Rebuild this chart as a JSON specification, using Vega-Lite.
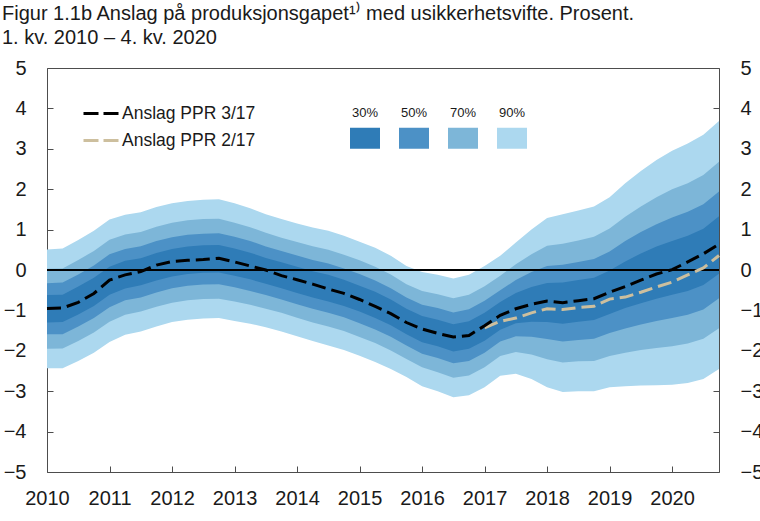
{
  "$schema": "https://vega.github.io/schema/vega-lite/v6.json",
  "autosize": "none",
  "width": 672,
  "height": 404,
  "padding": {"left": 47, "top": 68, "right": 41, "bottom": 49},
  "background": "white",
  "title": {
    "text": ["Figur 1.1b Anslag på produksjonsgapet¹⁾ med usikkerhetsvifte. Prosent.", "1. kv. 2010 – 4. kv. 2020"],
    "anchor": "start",
    "frame": "group",
    "dx": -45,
    "offset": 10,
    "fontSize": 20,
    "fontWeight": "normal",
    "font": "Liberation Sans",
    "color": "#1a1a1a",
    "lineHeight": 24
  },
  "data": {
    "values": [
      {"kvartal": 2010, "lo90": -2.43, "hi90": 0.51, "lo70": -1.95, "hi70": 0.03, "lo50": -1.59, "hi50": -0.33, "lo30": -1.30, "hi30": -0.62, "ppr317": -0.95, "ppr217": null},
      {"kvartal": 2010.25, "lo90": -2.43, "hi90": 0.53, "lo70": -1.94, "hi70": 0.04, "lo50": -1.59, "hi50": -0.31, "lo30": -1.29, "hi30": -0.61, "ppr317": -0.94, "ppr217": null},
      {"kvartal": 2010.5, "lo90": -2.25, "hi90": 0.74, "lo70": -1.76, "hi70": 0.25, "lo50": -1.40, "hi50": -0.11, "lo30": -1.10, "hi30": -0.41, "ppr317": -0.80, "ppr217": null},
      {"kvartal": 2010.75, "lo90": -2.05, "hi90": 0.97, "lo70": -1.55, "hi70": 0.47, "lo50": -1.19, "hi50": 0.11, "lo30": -0.89, "hi30": -0.19, "ppr317": -0.58, "ppr217": null},
      {"kvartal": 2011, "lo90": -1.78, "hi90": 1.25, "lo70": -1.28, "hi70": 0.75, "lo50": -0.92, "hi50": 0.39, "lo30": -0.61, "hi30": 0.08, "ppr317": -0.25, "ppr217": null},
      {"kvartal": 2011.25, "lo90": -1.60, "hi90": 1.37, "lo70": -1.11, "hi70": 0.88, "lo50": -0.75, "hi50": 0.52, "lo30": -0.46, "hi30": 0.23, "ppr317": -0.12, "ppr217": null},
      {"kvartal": 2011.5, "lo90": -1.52, "hi90": 1.43, "lo70": -1.03, "hi70": 0.94, "lo50": -0.68, "hi50": 0.59, "lo30": -0.38, "hi30": 0.29, "ppr317": -0.04, "ppr217": null},
      {"kvartal": 2011.75, "lo90": -1.40, "hi90": 1.56, "lo70": -0.91, "hi70": 1.07, "lo50": -0.56, "hi50": 0.72, "lo30": -0.26, "hi30": 0.42, "ppr317": 0.12, "ppr217": null},
      {"kvartal": 2012, "lo90": -1.29, "hi90": 1.65, "lo70": -0.81, "hi70": 1.17, "lo50": -0.45, "hi50": 0.81, "lo30": -0.16, "hi30": 0.52, "ppr317": 0.21, "ppr217": null},
      {"kvartal": 2012.25, "lo90": -1.23, "hi90": 1.71, "lo70": -0.75, "hi70": 1.23, "lo50": -0.39, "hi50": 0.87, "lo30": -0.10, "hi30": 0.58, "ppr317": 0.24, "ppr217": null},
      {"kvartal": 2012.5, "lo90": -1.20, "hi90": 1.74, "lo70": -0.72, "hi70": 1.26, "lo50": -0.36, "hi50": 0.90, "lo30": -0.07, "hi30": 0.61, "ppr317": 0.26, "ppr217": null},
      {"kvartal": 2012.75, "lo90": -1.19, "hi90": 1.75, "lo70": -0.71, "hi70": 1.27, "lo50": -0.35, "hi50": 0.91, "lo30": -0.06, "hi30": 0.62, "ppr317": 0.29, "ppr217": null},
      {"kvartal": 2013, "lo90": -1.26, "hi90": 1.65, "lo70": -0.78, "hi70": 1.17, "lo50": -0.43, "hi50": 0.82, "lo30": -0.14, "hi30": 0.53, "ppr317": 0.20, "ppr217": null},
      {"kvartal": 2013.25, "lo90": -1.33, "hi90": 1.53, "lo70": -0.86, "hi70": 1.06, "lo50": -0.52, "hi50": 0.72, "lo30": -0.23, "hi30": 0.43, "ppr317": 0.10, "ppr217": null},
      {"kvartal": 2013.5, "lo90": -1.42, "hi90": 1.38, "lo70": -0.96, "hi70": 0.92, "lo50": -0.62, "hi50": 0.58, "lo30": -0.34, "hi30": 0.30, "ppr317": 0.00, "ppr217": null},
      {"kvartal": 2013.75, "lo90": -1.52, "hi90": 1.26, "lo70": -1.06, "hi70": 0.80, "lo50": -0.73, "hi50": 0.47, "lo30": -0.45, "hi30": 0.19, "ppr317": -0.14, "ppr217": null},
      {"kvartal": 2014, "lo90": -1.64, "hi90": 1.15, "lo70": -1.18, "hi70": 0.69, "lo50": -0.85, "hi50": 0.36, "lo30": -0.57, "hi30": 0.08, "ppr317": -0.24, "ppr217": null},
      {"kvartal": 2014.25, "lo90": -1.76, "hi90": 1.05, "lo70": -1.30, "hi70": 0.59, "lo50": -0.96, "hi50": 0.25, "lo30": -0.68, "hi30": -0.03, "ppr317": -0.35, "ppr217": null},
      {"kvartal": 2014.5, "lo90": -1.87, "hi90": 0.97, "lo70": -1.40, "hi70": 0.50, "lo50": -1.06, "hi50": 0.16, "lo30": -0.78, "hi30": -0.12, "ppr317": -0.47, "ppr217": null},
      {"kvartal": 2014.75, "lo90": -1.98, "hi90": 0.85, "lo70": -1.51, "hi70": 0.38, "lo50": -1.17, "hi50": 0.04, "lo30": -0.89, "hi30": -0.24, "ppr317": -0.58, "ppr217": null},
      {"kvartal": 2015, "lo90": -2.12, "hi90": 0.70, "lo70": -1.66, "hi70": 0.24, "lo50": -1.32, "hi50": -0.10, "lo30": -1.03, "hi30": -0.39, "ppr317": -0.73, "ppr217": null},
      {"kvartal": 2015.25, "lo90": -2.28, "hi90": 0.55, "lo70": -1.81, "hi70": 0.08, "lo50": -1.47, "hi50": -0.26, "lo30": -1.19, "hi30": -0.54, "ppr317": -0.90, "ppr217": null},
      {"kvartal": 2015.5, "lo90": -2.45, "hi90": 0.35, "lo70": -1.99, "hi70": -0.11, "lo50": -1.65, "hi50": -0.45, "lo30": -1.37, "hi30": -0.73, "ppr317": -1.08, "ppr217": null},
      {"kvartal": 2015.75, "lo90": -2.65, "hi90": 0.10, "lo70": -2.20, "hi70": -0.35, "lo50": -1.87, "hi50": -0.68, "lo30": -1.59, "hi30": -0.96, "ppr317": -1.30, "ppr217": null},
      {"kvartal": 2016, "lo90": -2.88, "hi90": -0.05, "lo70": -2.41, "hi70": -0.52, "lo50": -2.07, "hi50": -0.86, "lo30": -1.79, "hi30": -1.14, "ppr317": -1.46, "ppr217": null},
      {"kvartal": 2016.25, "lo90": -3.00, "hi90": -0.12, "lo70": -2.53, "hi70": -0.60, "lo50": -2.18, "hi50": -0.94, "lo30": -1.89, "hi30": -1.23, "ppr317": -1.57, "ppr217": null},
      {"kvartal": 2016.5, "lo90": -3.15, "hi90": -0.21, "lo70": -2.67, "hi70": -0.70, "lo50": -2.31, "hi50": -1.05, "lo30": -2.02, "hi30": -1.34, "ppr317": -1.66, "ppr217": null},
      {"kvartal": 2016.75, "lo90": -3.10, "hi90": -0.12, "lo70": -2.61, "hi70": -0.61, "lo50": -2.25, "hi50": -0.97, "lo30": -1.95, "hi30": -1.27, "ppr317": -1.62, "ppr217": null},
      {"kvartal": 2017, "lo90": -2.90, "hi90": 0.10, "lo70": -2.41, "hi70": -0.40, "lo50": -2.05, "hi50": -0.76, "lo30": -1.75, "hi30": -1.06, "ppr317": -1.38, "ppr217": -1.43},
      {"kvartal": 2017.25, "lo90": -2.62, "hi90": 0.35, "lo70": -2.13, "hi70": -0.14, "lo50": -1.77, "hi50": -0.50, "lo30": -1.48, "hi30": -0.79, "ppr317": -1.12, "ppr217": -1.27},
      {"kvartal": 2017.5, "lo90": -2.57, "hi90": 0.68, "lo70": -2.03, "hi70": 0.14, "lo50": -1.64, "hi50": -0.25, "lo30": -1.32, "hi30": -0.57, "ppr317": -0.96, "ppr217": -1.19},
      {"kvartal": 2017.75, "lo90": -2.70, "hi90": 1.00, "lo70": -2.09, "hi70": 0.39, "lo50": -1.65, "hi50": -0.05, "lo30": -1.28, "hi30": -0.42, "ppr317": -0.85, "ppr217": -1.06},
      {"kvartal": 2018, "lo90": -2.90, "hi90": 1.29, "lo70": -2.21, "hi70": 0.60, "lo50": -1.71, "hi50": 0.10, "lo30": -1.29, "hi30": -0.32, "ppr317": -0.77, "ppr217": -0.96},
      {"kvartal": 2018.25, "lo90": -3.02, "hi90": 1.38, "lo70": -2.29, "hi70": 0.65, "lo50": -1.77, "hi50": 0.13, "lo30": -1.33, "hi30": -0.31, "ppr317": -0.81, "ppr217": -0.98},
      {"kvartal": 2018.5, "lo90": -3.00, "hi90": 1.47, "lo70": -2.26, "hi70": 0.73, "lo50": -1.73, "hi50": 0.20, "lo30": -1.28, "hi30": -0.25, "ppr317": -0.76, "ppr217": -0.93},
      {"kvartal": 2018.75, "lo90": -3.00, "hi90": 1.57, "lo70": -2.25, "hi70": 0.82, "lo50": -1.70, "hi50": 0.27, "lo30": -1.24, "hi30": -0.19, "ppr317": -0.71, "ppr217": -0.90},
      {"kvartal": 2019, "lo90": -2.90, "hi90": 1.80, "lo70": -2.13, "hi70": 1.03, "lo50": -1.56, "hi50": 0.46, "lo30": -1.09, "hi30": -0.01, "ppr317": -0.55, "ppr217": -0.72},
      {"kvartal": 2019.25, "lo90": -2.88, "hi90": 2.15, "lo70": -2.05, "hi70": 1.32, "lo50": -1.45, "hi50": 0.72, "lo30": -0.94, "hi30": 0.21, "ppr317": -0.41, "ppr217": -0.67},
      {"kvartal": 2019.5, "lo90": -2.86, "hi90": 2.45, "lo70": -1.98, "hi70": 1.57, "lo50": -1.35, "hi50": 0.94, "lo30": -0.82, "hi30": 0.41, "ppr317": -0.25, "ppr217": -0.55},
      {"kvartal": 2019.75, "lo90": -2.85, "hi90": 2.72, "lo70": -1.93, "hi70": 1.80, "lo50": -1.26, "hi50": 1.13, "lo30": -0.71, "hi30": 0.58, "ppr317": -0.10, "ppr217": -0.42},
      {"kvartal": 2020, "lo90": -2.84, "hi90": 2.95, "lo70": -1.89, "hi70": 2.00, "lo50": -1.19, "hi50": 1.30, "lo30": -0.61, "hi30": 0.72, "ppr317": 0.01, "ppr217": -0.30},
      {"kvartal": 2020.25, "lo90": -2.80, "hi90": 3.13, "lo70": -1.82, "hi70": 2.15, "lo50": -1.11, "hi50": 1.44, "lo30": -0.52, "hi30": 0.85, "ppr317": 0.20, "ppr217": -0.12},
      {"kvartal": 2020.5, "lo90": -2.70, "hi90": 3.35, "lo70": -1.70, "hi70": 2.35, "lo50": -0.98, "hi50": 1.63, "lo30": -0.37, "hi30": 1.02, "ppr317": 0.40, "ppr217": 0.05},
      {"kvartal": 2020.75, "lo90": -2.45, "hi90": 3.69, "lo70": -1.44, "hi70": 2.68, "lo50": -0.70, "hi50": 1.94, "lo30": -0.09, "hi30": 1.33, "ppr317": 0.64, "ppr217": 0.36}
    ]
  },
  "layer": [
    {
      "mark": {"type": "area", "opacity": 1, "strokeWidth": 0},
      "encoding": {
        "x": {"field": "kvartal", "type": "quantitative", "scale": {"domain": [2010, 2020.75], "nice": false, "zero": false},
              "axis": {"values": [2010, 2011, 2012, 2013, 2014, 2015, 2016, 2017, 2018, 2019, 2020], "format": "d", "title": null, "labelPadding": 22, "labelFlush": false}},
        "y": {"field": "lo90", "type": "quantitative", "scale": {"domain": [-5, 5], "nice": false, "zero": false},
              "axis": {"orient": "left", "values": [-5, -4, -3, -2, -1, 0, 1, 2, 3, 4, 5], "format": "d", "title": null, "labelPadding": 27}},
        "y2": {"field": "hi90"},
        "fill": {"datum": "90%", "type": "nominal",
                 "scale": {"domain": ["30%", "50%", "70%", "90%"], "range": ["#2f7cb7", "#4c91c6", "#7db6d8", "#acd8ef"]},
                 "legend": {"orient": "none", "direction": "horizontal", "legendX": 303, "legendY": 55, "title": null,
                            "symbolType": "M-1,-0.7H1V0.7H-1Z", "symbolSize": 900, "symbolStrokeWidth": 0, "symbolOpacity": 1,
                            "labelFontSize": 13, "labelAlign": "center", "labelBaseline": "middle", "labelOffset": -15, "columnPadding": 19, "padding": 0,
                            "labelColor": "#1a1a1a", "labelFont": "Liberation Sans",
                            "encode": {"labels": {"update": {"dy": {"value": -25}}}}}}
      }
    },
    {
      "mark": {"type": "area", "opacity": 1, "strokeWidth": 0},
      "encoding": {
        "x": {"field": "kvartal", "type": "quantitative"},
        "y": {"field": "lo70", "type": "quantitative", "axis": null},
        "y2": {"field": "hi70"},
        "fill": {"datum": "70%", "type": "nominal"}
      }
    },
    {
      "mark": {"type": "area", "opacity": 1, "strokeWidth": 0},
      "encoding": {
        "x": {"field": "kvartal", "type": "quantitative"},
        "y": {"field": "lo50", "type": "quantitative", "axis": null},
        "y2": {"field": "hi50"},
        "fill": {"datum": "50%", "type": "nominal"}
      }
    },
    {
      "mark": {"type": "area", "opacity": 1, "strokeWidth": 0},
      "encoding": {
        "x": {"field": "kvartal", "type": "quantitative"},
        "y": {"field": "lo30", "type": "quantitative", "axis": null},
        "y2": {"field": "hi30"},
        "fill": {"datum": "30%", "type": "nominal"}
      }
    },
    {
      "mark": {"type": "rule", "color": "#000000", "strokeWidth": 2},
      "encoding": {
        "y": {"datum": 0, "type": "quantitative",
              "axis": {"orient": "right", "values": [-5, -4, -3, -2, -1, 0, 1, 2, 3, 4, 5], "format": "d", "title": null, "labelPadding": 27}}
      }
    },
    {
      "mark": {"type": "line", "strokeWidth": 3, "strokeDash": [14, 6]},
      "encoding": {
        "x": {"field": "kvartal", "type": "quantitative"},
        "y": {"field": "ppr217", "type": "quantitative", "axis": null},
        "stroke": {"datum": "Anslag PPR 2/17", "type": "nominal",
                   "scale": {"domain": ["Anslag PPR 3/17", "Anslag PPR 2/17"], "range": ["#000000", "#cdbf9e"]},
                   "legend": {"orient": "none", "legendX": 46.25, "legendY": 36.5, "title": null,
                              "symbolType": "M-2.5,0H2.5", "symbolSize": 225, "symbolStrokeWidth": 3, "symbolDash": [15, 5],
                              "labelFontSize": 17.5, "labelOffset": 10.75, "rowPadding": 9, "padding": 0,
                              "labelColor": "#1a1a1a", "labelFont": "Liberation Sans"}}
      }
    },
    {
      "mark": {"type": "line", "strokeWidth": 3, "strokeDash": [14, 6]},
      "encoding": {
        "x": {"field": "kvartal", "type": "quantitative"},
        "y": {"field": "ppr317", "type": "quantitative", "axis": null},
        "stroke": {"datum": "Anslag PPR 3/17", "type": "nominal"}
      }
    }
  ],
  "resolve": {"axis": {"y": "independent"}},
  "config": {
    "font": "Liberation Sans",
    "view": {"stroke": "#4d4d4d", "strokeWidth": 1},
    "axis": {
      "labelFont": "Liberation Sans",
      "labelFontSize": 20,
      "labelColor": "#1a1a1a",
      "tickColor": "#4d4d4d",
      "tickSize": -6,
      "domain": false,
      "grid": false
    }
  }
}
